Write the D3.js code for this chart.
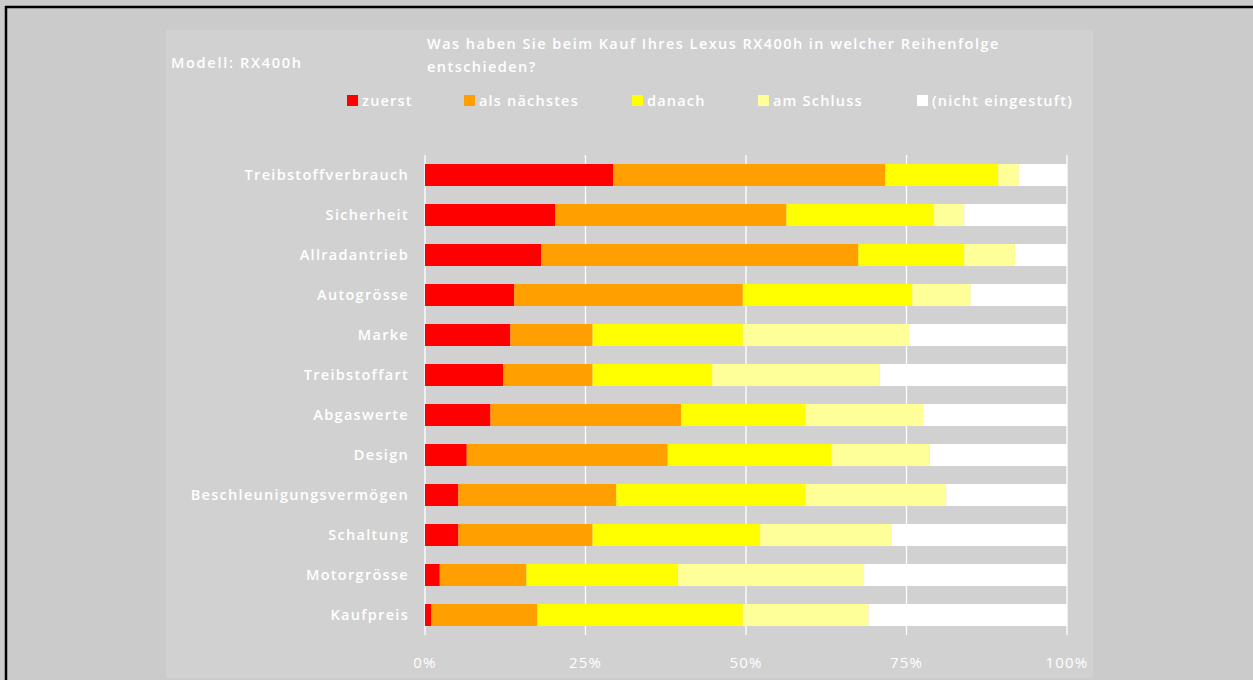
<!DOCTYPE html>
<html><head><meta charset="utf-8">
<script src="https://cdn.jsdelivr.net/npm/d3@7"></script>
<style>
html,body{margin:0;padding:0;background:#cbcbcb;}
svg{display:block;}
text{font-family:"Open Sans",sans-serif;fill:#fff;}
</style></head>
<body>
<svg id="c" width="1253" height="680"></svg>
<script>
const categories = ["Treibstoffverbrauch","Sicherheit","Allradantrieb","Autogrösse","Marke","Treibstoffart","Abgaswerte","Design","Beschleunigungsvermögen","Schaltung","Motorgrösse","Kaufpreis"];
const seriesNames = ["zuerst","als nächstes","danach","am Schluss","(nicht eingestuft)"];
const seriesColors = ["#ff0000","#ff9f00","#ffff00","#ffff99","#ffffff"];
const zuerst      = [29.3,20.3,18.1,13.9,13.3,12.2,10.2, 6.5, 5.2, 5.2, 2.3, 1.0];
const alsNaechstes= [42.4,36.0,49.4,35.6,12.8,13.9,29.7,31.3,24.6,20.9,13.5,16.5];
const danach      = [17.6,22.9,16.5,26.4,23.4,18.6,19.3,25.5,29.4,26.1,23.6,32.0];
const amSchluss   = [ 3.2, 4.8, 7.9, 9.1,25.9,26.1,18.4,15.3,22.0,20.5,29.0,19.6];
const nicht       = [ 7.5,16.0, 8.1,15.0,24.6,29.2,22.4,21.4,18.8,27.3,31.6,30.9];
const tickValues = [0,0.25,0.5,0.75,1];
const tickLabels = ["0%","25%","50%","75%","100%"];
const titleLines = ["Was haben Sie beim Kauf Ihres Lexus RX400h in welcher Reihenfolge","entschieden?"];
const modelLabel = "Modell: RX400h";

const svg = d3.select("#c");
// outer frame
svg.append("rect").attr("x",0).attr("y",0).attr("width",1253).attr("height",680).attr("fill","#cbcbcb");
svg.append("line").attr("x1",5).attr("x2",1253).attr("y1",7).attr("y2",7).attr("stroke","#000").attr("stroke-width",2.5);
svg.append("line").attr("x1",6).attr("x2",6).attr("y1",6).attr("y2",680).attr("stroke","#000").attr("stroke-width",2.5);
// panel
svg.append("rect").attr("x",166).attr("y",30).attr("width",927).attr("height",648).attr("fill","#d1d1d1");

const data = categories.map((c,i)=>({cat:c, zuerst:zuerst[i], "als nächstes":alsNaechstes[i], danach:danach[i], "am Schluss":amSchluss[i], "(nicht eingestuft)":nicht[i]}));
data.forEach(d=>{const t=d3.sum(seriesNames,k=>d[k]); seriesNames.forEach(k=>d[k]=d[k]/t);});
const stack = d3.stack().keys(seriesNames)(data);

const x = d3.scaleLinear().domain([0,1]).range([425,1067]);
const y = d3.scaleBand().domain(categories).range([155,635]).paddingInner(0.45).paddingOuter(0.225);
const color = d3.scaleOrdinal().domain(seriesNames).range(seriesColors);

// gridlines
svg.append("g").selectAll("line").data(tickValues).join("line")
  .attr("x1",d=>x(d)).attr("x2",d=>x(d)).attr("y1",155).attr("y2",635)
  .attr("stroke","#fff").attr("stroke-width",1.3);

// bars
svg.append("g").selectAll("g").data(stack).join("g").attr("fill",s=>color(s.key))
  .selectAll("rect").data(s=>s).join("rect")
  .attr("x",d=>x(d[0])).attr("width",d=>x(d[1])-x(d[0]))
  .attr("y",d=>y(d.data.cat)).attr("height",y.bandwidth());

// category labels
svg.append("g").selectAll("text").data(categories).join("text")
  .attr("x",409).attr("y",d=>y(d)+y.bandwidth()/2).attr("dy","0.35em")
  .attr("text-anchor","end").attr("font-size",14.5).attr("font-weight",600)
  .attr("letter-spacing",1.3).text(d=>d);

// x tick labels
svg.append("g").selectAll("text").data(tickValues).join("text")
  .attr("x",d=>x(d)).attr("y",663).attr("dy","0.35em").attr("text-anchor","middle")
  .attr("font-size",15).attr("letter-spacing",1.2).text((d,i)=>tickLabels[i]);

// title
svg.append("g").selectAll("text").data(titleLines).join("text")
  .attr("x",427).attr("y",(d,i)=>44+i*23).attr("dy","0.35em")
  .attr("font-size",14.5).attr("font-weight",600).attr("letter-spacing",1.45).text(d=>d);
svg.append("text").attr("x",171).attr("y",63).attr("dy","0.35em")
  .attr("font-size",14.5).attr("font-weight",600).attr("letter-spacing",1.7).text(modelLabel);

// legend
const legX = [347,464,632,758,917];
const leg = svg.append("g").selectAll("g").data(seriesNames).join("g")
  .attr("transform",(d,i)=>`translate(${legX[i]},95)`);
leg.append("rect").attr("width",11).attr("height",11).attr("fill",d=>color(d));
leg.append("text").attr("x",15).attr("y",5.5).attr("dy","0.35em")
  .attr("font-size",14.5).attr("font-weight",600).attr("letter-spacing",1.2).text(d=>d);
</script>
</body></html>
